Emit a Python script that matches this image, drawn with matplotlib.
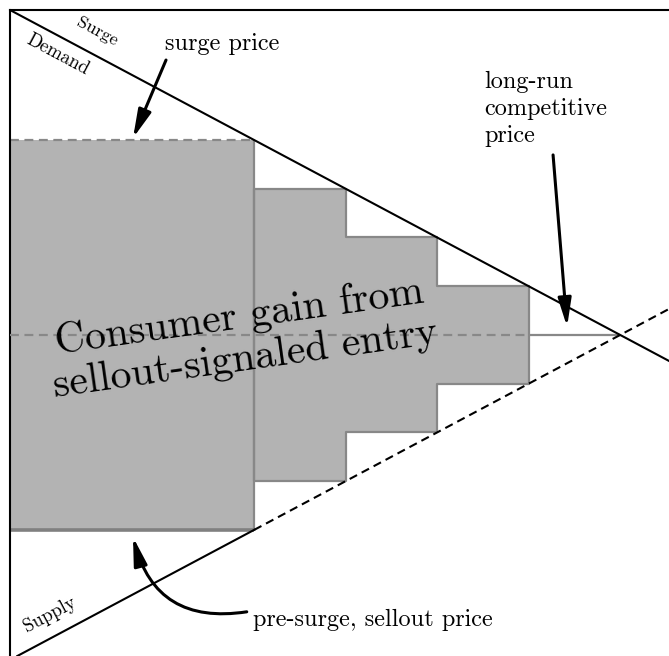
import matplotlib
matplotlib.use("Agg")
import matplotlib.pyplot as plt

plt.rcParams['font.family'] = 'cmr10'
plt.rcParams['mathtext.fontset'] = 'cm'
plt.rcParams['axes.unicode_minus'] = False

# Linear demand p = 1 - q and supply p = q - 1, crossing at the competitive price 0
q_cross = 1.0
competitive_price = 0.0
surge_q = 0.4                        # quantity sold at the surge / sellout prices
step_edges = [0.4, 0.55, 0.7, 0.85]  # right edges of the entry steps


def demand(q):
    return 1.0 - q


def supply(q):
    return q - 1.0


surge_price = demand(surge_q)
presurge_price = supply(surge_q)
step_tops = [demand(q) for q in step_edges[1:]]
step_bottoms = [supply(q) for q in step_edges[1:]]

fig = plt.figure(figsize=(6.69, 6.56), dpi=100)
ax = fig.add_axes([10 / 669, 0, 659 / 669, 646 / 656])
ax.set_xlim(0, 1.08)
ax.set_ylim(-0.988, 1.0)
ax.set_xticks([])
ax.set_yticks([])
for side in ['right', 'bottom']:
    ax.spines[side].set_visible(False)
for side in ['top', 'left']:
    ax.spines[side].set_linewidth(1.5)

fill_c = '#b3b3b3'
edge_c = '#888888'
dash = (0, (4, 2.5))

# gain block at the surge quantity
ax.bar(0, surge_price - presurge_price, bottom=presurge_price, width=surge_q,
       align='edge', color=fill_c, linewidth=0, zorder=1)
ax.vlines(surge_q, presurge_price, surge_price, color=edge_c, lw=1.6, zorder=2)
ax.hlines(surge_price, 0, surge_q, color=edge_c, lw=1.6, linestyles=dash, zorder=2)
ax.hlines(presurge_price, 0, surge_q, color='#808080', lw=2.6, zorder=2)

# further entry steps
xs = step_edges
tops = step_tops + [step_tops[-1]]
bots = step_bottoms + [step_bottoms[-1]]
ax.fill_between(xs, bots, tops, step='post', facecolor=fill_c,
                edgecolor=edge_c, linewidth=1.6, zorder=1)

# competitive price
ax.hlines(competitive_price, 0, step_edges[-1], color=edge_c, lw=1.6,
          linestyles=dash, zorder=3)
ax.hlines(competitive_price, step_edges[-1], q_cross, color=edge_c, lw=1.6, zorder=3)

# demand and supply
qd = [0, 1.08]
ax.plot(qd, [demand(q) for q in qd], color='black', lw=1.5, zorder=4)
ax.plot([0.012, surge_q], [supply(0.012), supply(surge_q)], color='black', lw=1.5, zorder=4)
ax.plot([surge_q, 1.08], [supply(surge_q), supply(1.08)], color='black', lw=1.5,
        linestyle=dash, zorder=4)

ax.text(0.38, -0.01, 'Consumer gain from\nsellout-signaled entry',
        fontsize=30, rotation=8, ha='center', va='center', linespacing=1.15,
        rotation_mode='anchor', zorder=5)

ax.text(0.143, 0.935, 'Surge', fontsize=13, rotation=-28, ha='center', va='center',
        rotation_mode='anchor')
ax.text(0.079, 0.862, 'Demand', fontsize=13.5, rotation=-28, ha='center', va='center',
        rotation_mode='anchor')
ax.text(0.066, -0.862, 'Supply', fontsize=13.5, rotation=28, ha='center', va='center',
        rotation_mode='anchor')

arrow = dict(arrowstyle='-|>,head_length=0.85,head_width=0.2', color='black', lw=2.2,
             mutation_scale=20, shrinkA=0, shrinkB=0)

ax.text(0.254, 0.895, 'surge price', fontsize=17.5, ha='left', va='center')
ax.annotate('', xy=(0.2016, 0.606), xytext=(0.2557, 0.846), arrowprops=arrow)

ax.text(0.777, 0.695, 'long-run\ncompetitive\nprice', fontsize=17.5, ha='left', va='center',
        linespacing=1.3)
ax.annotate('', xy=(0.913, 0.025), xytext=(0.890, 0.554), arrowprops=arrow)

ax.text(0.398, -0.877, 'pre-surge, sellout price', fontsize=17.5, ha='left', va='center')
ax.annotate('', xy=(0.2016, -0.622), xytext=(0.388, -0.852),
            arrowprops=dict(arrow, connectionstyle='arc3,rad=-0.45'))

fig.savefig('out.png', dpi=100)
